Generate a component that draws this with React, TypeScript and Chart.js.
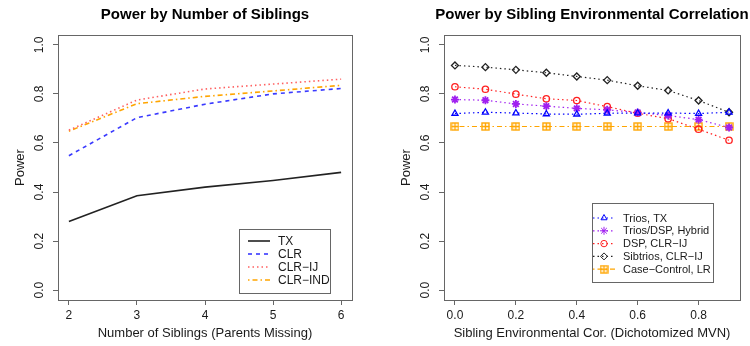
import React, { useEffect, useRef } from 'react';
import { Chart, registerables } from 'chart.js';
import { drawPoint } from 'chart.js/helpers';

Chart.register(...registerables);

// ---------- data: left panel ----------
const siblingCounts = [2, 3, 4, 5, 6];
const txPower = [0.28, 0.385, 0.42, 0.447, 0.48];
const clrPower = [0.548, 0.703, 0.758, 0.8, 0.822];
const clrIjPower = [0.652, 0.775, 0.82, 0.84, 0.86];
const clrIndPower = [0.648, 0.76, 0.79, 0.812, 0.835];
const siblingTicks = [2, 3, 4, 5, 6];

// ---------- data: right panel ----------
const envCorrelation = [0, 0.1, 0.2, 0.3, 0.4, 0.5, 0.6, 0.7, 0.8, 0.9];
const triosTx = [0.72, 0.725, 0.722, 0.718, 0.717, 0.721, 0.722, 0.722, 0.72, 0.725];
const hybridPower = [0.777, 0.774, 0.759, 0.75, 0.741, 0.735, 0.724, 0.712, 0.695, 0.663];
const dspClrIj = [0.829, 0.819, 0.799, 0.78, 0.773, 0.748, 0.721, 0.699, 0.656, 0.611];
const sibtriosClrIj = [0.916, 0.909, 0.898, 0.886, 0.871, 0.856, 0.833, 0.814, 0.773, 0.725];
const caseControlLr = [0.667, 0.667, 0.667, 0.667, 0.667, 0.667, 0.667, 0.667, 0.667, 0.667];
const correlationTicks = [0, 0.2, 0.4, 0.6, 0.8];

const powerTicks = [0, 0.2, 0.4, 0.6, 0.8, 1.0];

const FONT = '"Liberation Sans", Arial, Helvetica, sans-serif';
const TEXT = '#1a1a1a';
const AXIS = '#666666';

function squarePlus(color: string): HTMLCanvasElement {
  const c = document.createElement('canvas');
  c.width = 9;
  c.height = 9;
  const g = c.getContext('2d')!;
  g.strokeStyle = color;
  g.lineWidth = 1.4;
  g.strokeRect(1, 1, 7, 7);
  g.beginPath();
  g.moveTo(4.5, 1);
  g.lineTo(4.5, 8);
  g.moveTo(1, 4.5);
  g.lineTo(8, 4.5);
  g.stroke();
  return c;
}

const rPlotPlugin = {
  id: 'rPlot',
  afterDraw(chart: any, _args: any, opts: any) {
    const ctx = chart.ctx;
    const area = chart.chartArea;
    const yScale = chart.scales.y;
    ctx.save();
    // box
    ctx.strokeStyle = AXIS;
    ctx.lineWidth = 1;
    ctx.strokeRect(Math.round(area.left) + 0.5, Math.round(area.top) + 0.5,
      Math.round(area.right - area.left), Math.round(area.bottom - area.top));
    // rotated y tick labels
    ctx.fillStyle = TEXT;
    ctx.font = `12px ${FONT}`;
    ctx.textAlign = 'center';
    ctx.textBaseline = 'middle';
    for (const t of yScale.ticks) {
      const py = yScale.getPixelForValue(t.value);
      ctx.save();
      ctx.translate(area.left - 18, py);
      ctx.rotate(-Math.PI / 2);
      ctx.fillText(Number(t.value).toFixed(1), 0, 0);
      ctx.restore();
    }
    // title
    ctx.font = `bold ${opts.titleSize}px ${FONT}`;
    ctx.fillStyle = '#000';
    ctx.fillText(opts.title, (area.left + area.right) / 2, 15);
    // legend
    const lg = opts.legend;
    const bx = area.right - lg.right - lg.width;
    const by = area.bottom - lg.bottom - lg.height;
    ctx.strokeStyle = AXIS;
    ctx.lineWidth = 1;
    ctx.strokeRect(Math.round(bx) + 0.5, Math.round(by) + 0.5, lg.width, lg.height);
    ctx.font = `${lg.fontSize}px ${FONT}`;
    ctx.textAlign = 'left';
    chart.data.datasets.forEach((ds: any, i: number) => {
      const y = by + lg.firstRow + i * lg.rowGap;
      const x0 = bx + lg.lineStart;
      const x1 = x0 + lg.lineLen;
      ctx.save();
      ctx.strokeStyle = ds.borderColor;
      ctx.lineWidth = ds.borderWidth;
      ctx.setLineDash(ds.borderDash || []);
      ctx.beginPath();
      ctx.moveTo(x0, y);
      ctx.lineTo(x1, y);
      ctx.stroke();
      ctx.restore();
      if (ds.pointRadius > 0) {
        ctx.save();
        ctx.strokeStyle = ds.pointBorderColor;
        ctx.fillStyle = 'rgba(0,0,0,0)';
        drawPoint(ctx, {
          pointStyle: ds.pointStyle,
          radius: ds.pointRadius,
          borderWidth: ds.pointBorderWidth,
          rotation: 0,
        }, (x0 + x1) / 2, y);
        ctx.restore();
      }
      ctx.fillStyle = TEXT;
      ctx.fillText(ds.label, bx + lg.textStart, y + 0.5);
    });
    ctx.restore();
  },
};

function makeScales(xMin: number, xMax: number, xTicks: number[], xDigits: number,
  xTitle: string, yTitlePad: number, yWidth: number) {
  return {
    x: {
      type: 'linear',
      min: xMin,
      max: xMax,
      afterBuildTicks: (s: any) => { s.ticks = xTicks.map((v) => ({ value: v })); },
      afterFit: (s: any) => { s.height = 46; },
      ticks: {
        color: TEXT,
        font: { size: 12, family: FONT },
        padding: 3,
        maxRotation: 0,
        autoSkip: false,
        callback: (v: any) => Number(v).toFixed(xDigits),
      },
      grid: { drawOnChartArea: false, drawTicks: true, tickLength: 5, color: AXIS },
      border: { display: false },
      title: {
        display: true,
        text: xTitle,
        color: TEXT,
        font: { size: 13, family: FONT },
        padding: { top: 0, bottom: 5 },
      },
    },
    y: {
      type: 'linear',
      min: -0.04,
      max: 1.04,
      afterBuildTicks: (s: any) => { s.ticks = powerTicks.map((v) => ({ value: v })); },
      afterFit: (s: any) => { s.width = yWidth; },
      ticks: { display: false },
      grid: { drawOnChartArea: false, drawTicks: true, tickLength: 5, color: AXIS },
      border: { display: false },
      title: {
        display: true,
        text: 'Power',
        color: TEXT,
        font: { size: 13, family: FONT },
        padding: { top: yTitlePad, bottom: 0 },
      },
    },
  };
}

function useChart(ref: React.RefObject<HTMLCanvasElement | null>, build: () => any) {
  useEffect(() => {
    if (!ref.current) return;
    const chart = new Chart(ref.current, build());
    return () => chart.destroy();
  }, []);
}

function toXY(xs: number[], ys: number[]) {
  return xs.map((x, i) => ({ x, y: ys[i] }));
}

export default function App() {
  const leftRef = useRef<HTMLCanvasElement>(null);
  const rightRef = useRef<HTMLCanvasElement>(null);

  useChart(leftRef, () => ({
    type: 'line',
    data: {
      datasets: [
        { label: 'TX', data: toXY(siblingCounts, txPower), borderColor: '#222222', borderWidth: 1.6, borderDash: [], pointRadius: 0 },
        { label: 'CLR', data: toXY(siblingCounts, clrPower), borderColor: '#3a3aff', borderWidth: 1.6, borderDash: [4, 4], pointRadius: 0 },
        { label: 'CLR\u2212IJ', data: toXY(siblingCounts, clrIjPower), borderColor: '#ff6060', borderWidth: 1.6, borderDash: [1.5, 3], pointRadius: 0 },
        { label: 'CLR\u2212IND', data: toXY(siblingCounts, clrIndPower), borderColor: '#ffa500', borderWidth: 1.6, borderDash: [1.5, 3, 5, 3], pointRadius: 0 },
      ],
    },
    options: {
      animation: false,
      responsive: false,
      devicePixelRatio: 1,
      layout: { padding: { top: 35, right: 23, bottom: 0, left: 0 } },
      plugins: {
        legend: { display: false },
        tooltip: { enabled: false },
        rPlot: {
          title: 'Power by Number of Siblings',
          titleSize: 15,
          legend: { width: 91, height: 64, right: 22, bottom: 7, firstRow: 12, rowGap: 13, lineStart: 9, lineLen: 22, textStart: 39, fontSize: 12 },
        },
      },
      scales: makeScales(1.84, 6.16, siblingTicks, 0, 'Number of Siblings (Parents Missing)', 13, 58),
    },
    plugins: [rPlotPlugin],
  }));

  useChart(rightRef, () => {
    const cc = squarePlus('#ffa500');
    const mk = (label: string, ys: number[], color: string, style: any, dash: number[], radius = 3.5, bw = 1.3) => ({
      label,
      data: toXY(envCorrelation, ys),
      borderColor: color,
      borderWidth: 1.2,
      borderDash: dash,
      pointStyle: style,
      pointRadius: radius,
      pointBorderColor: color,
      pointBackgroundColor: 'rgba(0,0,0,0)',
      pointBorderWidth: bw,
    });
    return {
      type: 'line',
      data: {
        datasets: [
          mk('Trios, TX', triosTx, '#0000ff', 'triangle', [1.5, 3]),
          mk('Trios/DSP, Hybrid', hybridPower, '#a020f0', 'star', [1.5, 3], 4, 1.8),
          mk('DSP, CLR\u2212IJ', dspClrIj, '#ff2020', 'circle', [1.5, 3], 3.2),
          mk('Sibtrios, CLR\u2212IJ', sibtriosClrIj, '#222222', 'rectRot', [1.5, 3], 3.5),
          mk('Case\u2212Control, LR', caseControlLr, '#ffa500', cc, [1.5, 3, 5, 3]),
        ],
      },
      options: {
        animation: false,
        responsive: false,
        devicePixelRatio: 1,
        layout: { padding: { top: 35, right: 10, bottom: 0, left: 0 } },
        plugins: {
          legend: { display: false },
          tooltip: { enabled: false },
          rPlot: {
            title: 'Power by Sibling Environmental Correlation',
            titleSize: 15,
            legend: { width: 121, height: 79, right: 27, bottom: 18, firstRow: 15, rowGap: 12.8, lineStart: 1, lineLen: 22, textStart: 31, fontSize: 11 },
          },
        },
        scales: makeScales(-0.036, 0.936, correlationTicks, 1, 'Sibling Environmental Cor. (Dichotomized MVN)', 24, 69),
      },
      plugins: [rPlotPlugin],
    };
  });

  return (
    <div style={{ position: 'fixed', left: 0, top: 0, width: 750, height: 346, background: '#fff', display: 'flex' }}>
      <canvas ref={leftRef} width={375} height={346} style={{ width: 375, height: 346 }} />
      <canvas ref={rightRef} width={375} height={346} style={{ width: 375, height: 346 }} />
    </div>
  );
}
